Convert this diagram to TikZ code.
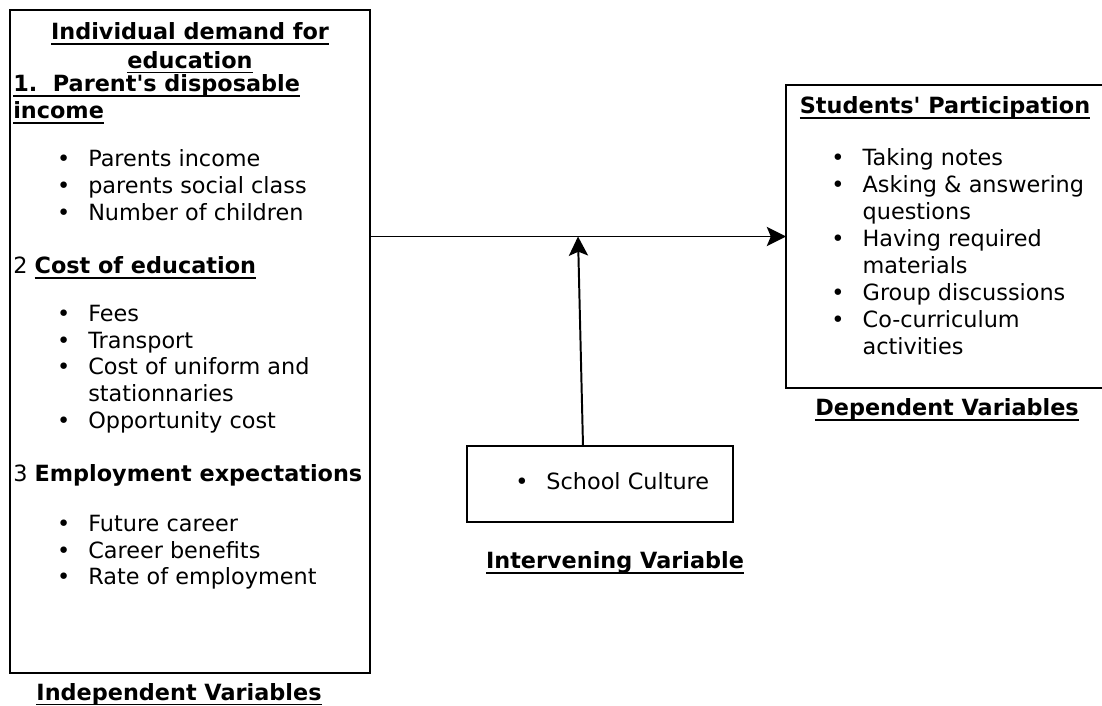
\documentclass[tikz,border=0pt]{standalone}
\usepackage{fontspec}
\setmainfont{DejaVu Sans}
\usetikzlibrary{arrows.meta,positioning,calc}

% plain underline that sits just under the descenders
\newcommand{\undl}[1]{\leavevmode\setbox0=\hbox{#1}\rlap{\rule[-3.6pt]{\wd0}{1.1pt}}\box0}

\begin{document}
\begin{tikzpicture}[
  font=\fontsize{15.9}{19.2}\selectfont,
  x=1cm, y=1cm,
  box/.style={draw, line width=1.4pt, inner sep=0pt, outer sep=0pt},
  head/.style={anchor=west, inner sep=0pt, align=left},
  list/.style={anchor=west, inner sep=0pt},
  caption/.style={inner sep=0pt, align=center, font=\fontsize{15.9}{19.2}\selectfont\bfseries},
  arrow/.style={-{Stealth[length=0.48cm, width=0.48cm, inset=0.1cm]}, line width=1.4pt}
]
\clip (0,0) rectangle (27.55,-17.65);

% independent variables
\node[box, minimum width=9cm, minimum height=16.575cm] (indep) at (4.75,-8.5375) {};
\node[caption] (ttl) at (4.75,-1.2) {\undl{Individual demand for}\\[1pt]\undl{education}};
\node[head] (h1) at (0.325,-2.48) {\bfseries\undl{1.\ \ Parent\textquotesingle s disposable}\\\bfseries\undl{income}};
\node[list] (l1) at (1.42,-4.7) {\begin{tabular}{@{}c@{\hspace{0.45cm}}l@{}}
  \textbullet & Parents income\\
  \textbullet & parents social class\\
  \textbullet & Number of children
\end{tabular}};
\node[head] (h2) at (0.325,-6.7) {2 \textbf{\undl{Cost of education}}};
\node[list] (l2) at (1.42,-9.24) {\begin{tabular}{@{}c@{\hspace{0.45cm}}l@{}}
  \textbullet & Fees\\
  \textbullet & Transport\\
  \textbullet & Cost of uniform and\\
              & stationnaries\\
  \textbullet & Opportunity cost
\end{tabular}};
\node[head] (h3) at (0.325,-11.875) {3 \textbf{Employment expectations}};
\node[list] (l3) at (1.42,-13.815) {\begin{tabular}{@{}c@{\hspace{0.45cm}}l@{}}
  \textbullet & Future career\\
  \textbullet & Career benefits\\
  \textbullet & Rate of employment
\end{tabular}};
\node[caption] (indeplbl) at (4.475,-17.36) {\undl{Independent Variables}};

% dependent variables
\node[box, minimum width=8.1cm, minimum height=7.575cm] (dep) at (23.7,-5.9125) {};
\node[caption] (depttl) at (23.625,-2.7) {\undl{Students\textquotesingle\ Participation}};
\node[list] (l4) at (20.78,-6.36) {\begin{tabular}{@{}c@{\hspace{0.45cm}}l@{}}
  \textbullet & Taking notes\\
  \textbullet & Asking \& answering\\
              & questions\\
  \textbullet & Having required\\
              & materials\\
  \textbullet & Group discussions\\
  \textbullet & Co-curriculum\\
              & activities
\end{tabular}};
\node[caption] (deplbl) at (23.675,-10.25) {\undl{Dependent Variables}};

% intervening variable
\node[box, minimum width=6.65cm, minimum height=1.9cm] (cult) at (15.0,-12.1) {};
\node[list] (l5) at (12.875,-12.1) {\begin{tabular}{@{}c@{\hspace{0.45cm}}l@{}}
  \textbullet & School Culture
\end{tabular}};
\node[caption] (cultlbl) at (15.375,-14.075) {\undl{Intervening Variable}};

\coordinate (meet) at (14.45,-5.9125);
\draw[arrow] (indep.east |- dep.west) -- (dep.west);
\draw[arrow] ([xshift=-0.425cm]cult.north) -- (meet);
\end{tikzpicture}
\end{document}
